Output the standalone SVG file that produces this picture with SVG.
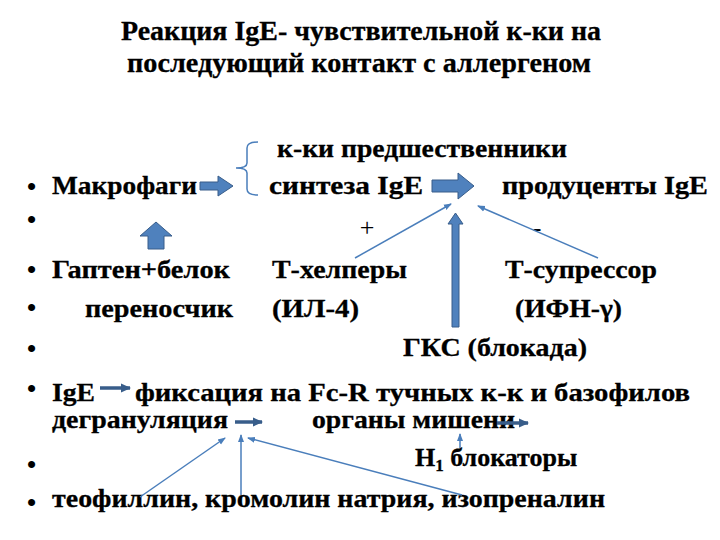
<svg xmlns="http://www.w3.org/2000/svg" width="720" height="540" viewBox="0 0 720 540">
<style>
.t{font-family:"Liberation Serif","DejaVu Serif",serif;font-weight:bold;font-size:26px;fill:#000;stroke:#000;stroke-width:0.3}
.ti{font-family:"Liberation Serif","DejaVu Serif",serif;font-weight:bold;font-size:28px;fill:#000;stroke:#000;stroke-width:0.3}
.r{font-family:"Liberation Serif","DejaVu Serif",serif;font-size:26px;fill:#000}
.b{font-family:"Liberation Sans","DejaVu Sans",sans-serif;font-size:26px;fill:#000}
.blk{fill:#4F81BD;stroke:#385D8A;stroke-width:1}
.thin{fill:none;stroke:#4A7EBB;stroke-width:1.5}
.sh{fill:none;stroke:#385D8A;stroke-width:3.5}
</style>
<defs>
<marker id="ah" markerUnits="userSpaceOnUse" markerWidth="8" markerHeight="8" viewBox="0 0 8 8" refX="7" refY="4" orient="auto">
<path d="M0,1 L8,4 L0,7 Z" fill="#4A7EBB"/>
</marker>
<marker id="ah2" markerUnits="userSpaceOnUse" markerWidth="10" markerHeight="10" viewBox="0 0 10 10" refX="9" refY="5" orient="auto">
<path d="M0,0.5 L10,5 L0,9.5 Z" fill="#385D8A"/>
</marker>
</defs>
<rect width="720" height="540" fill="#fff"/>

<g id="title">
<text class="ti" x="121" y="40" textLength="480" lengthAdjust="spacingAndGlyphs">Реакция IgE- чувствительной к-ки на</text>
<text class="ti" x="127" y="72" textLength="464" lengthAdjust="spacingAndGlyphs">последующий контакт с аллергеном</text>
</g>

<g id="bullets">
<text class="b" x="27" y="195">•</text>
<text class="b" x="27" y="228">•</text>
<text class="b" x="27" y="278">•</text>
<text class="b" x="27" y="316">•</text>
<text class="b" x="27" y="357">•</text>
<text class="b" x="27" y="397">•</text>
<text class="b" x="27" y="473">•</text>
<text class="b" x="27" y="511">•</text>
</g>

<g id="precursors"><text class="t" x="277" y="157" textLength="290" lengthAdjust="spacingAndGlyphs">к-ки предшественники</text></g>
<g id="macrophages"><text class="t" x="52" y="194" textLength="145" lengthAdjust="spacingAndGlyphs">Макрофаги</text></g>
<g id="synthesis"><text class="t" x="269" y="194" textLength="154" lengthAdjust="spacingAndGlyphs">синтеза  IgE</text></g>
<g id="producers"><text class="t" x="502" y="194" textLength="206" lengthAdjust="spacingAndGlyphs">продуценты  IgE</text></g>
<g id="plus"><text class="r" x="367" y="236" text-anchor="middle">+</text></g>
<g id="minus"><text class="r" x="537" y="236" text-anchor="middle">-</text></g>
<g id="hapten"><text class="t" x="52" y="278" textLength="178" lengthAdjust="spacingAndGlyphs">Гаптен+белок</text>
<text class="t" x="85" y="317" textLength="148" lengthAdjust="spacingAndGlyphs">переносчик</text></g>
<g id="thelpers"><text class="t" x="272" y="278" textLength="135" lengthAdjust="spacingAndGlyphs">Т-хелперы</text>
<text class="t" x="272" y="317" textLength="87" lengthAdjust="spacingAndGlyphs">(ИЛ-4)</text></g>
<g id="tsuppressor"><text class="t" x="505" y="278" textLength="152" lengthAdjust="spacingAndGlyphs">Т-супрессор</text>
<text class="t" x="515" y="317" textLength="107" lengthAdjust="spacingAndGlyphs">(ИФН-γ)</text></g>
<g id="gks"><text class="t" x="403" y="356" textLength="184" lengthAdjust="spacingAndGlyphs">ГКС (блокада)</text></g>
<g id="ige"><text class="t" x="52" y="401" textLength="43" lengthAdjust="spacingAndGlyphs">IgE</text></g>
<g id="fixation"><text class="t" x="135" y="401" textLength="555" lengthAdjust="spacingAndGlyphs">фиксация на Fc-R тучных к-к  и  базофилов</text></g>
<g id="degranulation"><text class="t" x="52" y="428" textLength="176" lengthAdjust="spacingAndGlyphs">дегрануляция</text></g>
<g id="targets"><text class="t" x="312" y="428" textLength="203" lengthAdjust="spacingAndGlyphs">органы мишени</text></g>
<g id="h1"><text class="t" x="415" y="466">H<tspan font-size="17" dy="5">1</tspan><tspan dy="-5"> блокаторы</tspan></text></g>
<g id="drugs"><text class="t" x="52" y="507" textLength="553" lengthAdjust="spacingAndGlyphs">теофиллин, кромолин натрия, изопреналин</text></g>

<g id="connectors">
<path class="blk" d="M200,182 H218 V176 L233,186 L218,196 V190 H200 Z"/>
<path class="blk" d="M156,222 L172,236 H164 V249 H148 V236 H140 Z"/>
<path class="thin" d="M258,142 Q247,142 247,148 V163 Q247,168 236,168 Q247,168 247,173 V189 Q247,195 258,195"/>
<path class="blk" d="M432,180 H458 V173 L474,186 L458,199 V192 H432 Z"/>
<path class="blk" d="M455.5,213 L463,224 H459 V327 H452 V224 H448 Z"/>
<line class="thin" x1="355" y1="258" x2="451" y2="204" marker-end="url(#ah)"/>
<line class="thin" x1="598" y1="258" x2="478" y2="206" marker-end="url(#ah)"/>
<line class="sh" x1="100" y1="388" x2="130" y2="388" marker-end="url(#ah2)"/>
<line class="sh" x1="235" y1="422" x2="262" y2="422" marker-end="url(#ah2)"/>
<line class="sh" x1="497" y1="423" x2="528" y2="423" marker-end="url(#ah2)"/>
<line class="thin" x1="140" y1="497" x2="225" y2="438" marker-end="url(#ah)"/>
<line class="thin" x1="241" y1="495" x2="241" y2="435" marker-end="url(#ah)"/>
<line class="thin" x1="462" y1="495" x2="248" y2="438" marker-end="url(#ah)"/>
<line class="thin" x1="460" y1="448" x2="460" y2="434" marker-end="url(#ah)"/>
</g>
</svg>
